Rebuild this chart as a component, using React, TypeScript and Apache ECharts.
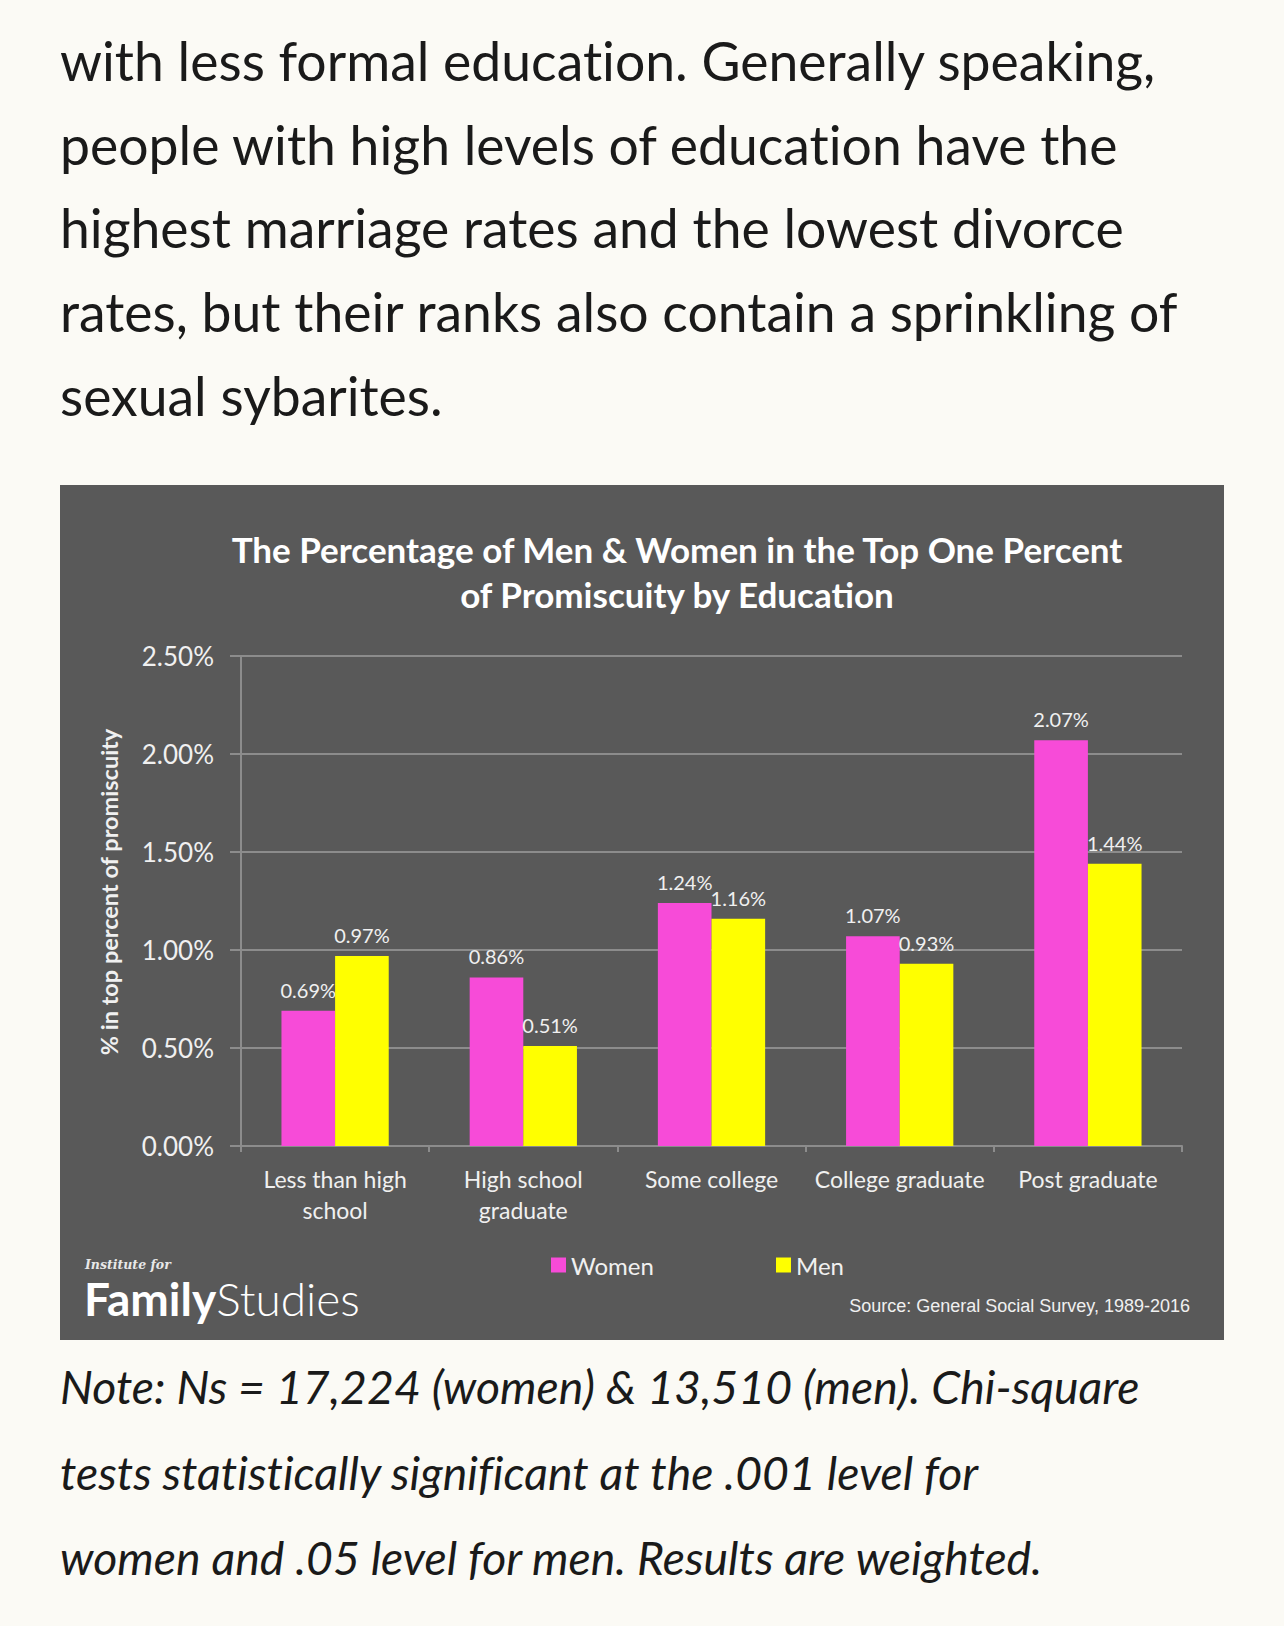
import * as echarts from "echarts";
import { useEffect, useRef } from "react";

const categories = [
  "Less than high\nschool",
  "High school\ngraduate",
  "Some college",
  "College graduate",
  "Post graduate",
];
const womenValues = [0.69, 0.86, 1.24, 1.07, 2.07];
const menValues = [0.97, 0.51, 1.16, 0.93, 1.44];
const yTicks = { min: 0, max: 2.5, interval: 0.5 };

const introLines = [
  "with less formal education. Generally speaking,",
  "people with high levels of education have the",
  "highest marriage rates and the lowest divorce",
  "rates, but their ranks also contain a sprinkling of",
  "sexual sybarites.",
];
const noteLines = [
  "Note: Ns = 17,224 (women) & 13,510 (men). Chi-square",
  "tests statistically significant at the .001 level for",
  "women and .05 level for men. Results are weighted.",
];

const PINK = "#f74bd8";
const YELLOW = "#ffff00";
const GRID = "#8c8c8c";
const LABEL = "#f0f0f0";
const FONT = "Lato, 'Open Sans', sans-serif";

function PromiscuityChart() {
  const chartRef = useRef<HTMLDivElement | null>(null);

  useEffect(() => {
    if (!chartRef.current) return;
    const chart = echarts.init(chartRef.current, null, { renderer: "svg" });

    const barLabel = {
      show: true,
      position: "top" as const,
      distance: 11,
      color: LABEL,
      fontSize: 20,
      fontFamily: FONT,
      formatter: (p: any) => p.value.toFixed(2) + "%",
    };

    const legendText = { color: LABEL, fontSize: 24, fontFamily: FONT };

    const option: echarts.EChartsOption = {
      animation: false,
      backgroundColor: "#595959",
      textStyle: { fontFamily: FONT },
      graphic: [
        {
          type: "text",
          x: 617,
          y: 41,
          style: {
            text: "The Percentage of Men & Women in the Top One Percent\nof Promiscuity by Education",
            fill: "#ffffff",
            font: `bold 35px ${FONT}`,
            lineHeight: 45,
            textAlign: "center",
            textVerticalAlign: "top",
          },
        },
        {
          // y axis title
          type: "text",
          x: 49,
          y: 407,
          rotation: Math.PI / 2,
          style: {
            text: "% in top percent of promiscuity",
            fill: LABEL,
            font: `bold 23.5px ${FONT}`,
            textAlign: "center",
            textVerticalAlign: "middle",
          },
        },
        {
          type: "text",
          left: 25,
          top: 773,
          style: {
            text: "Institute for",
            fill: "#e8e8e8",
            font: "italic bold 12.5px 'DejaVu Serif', serif",
          },
        },
        {
          type: "text",
          left: 24,
          top: 790,
          style: {
            text: "{b|Family}{l|Studies}",
            rich: {
              b: {
                fill: "#ffffff",
                fontFamily: FONT,
                fontWeight: "bold",
                fontSize: 46,
                lineHeight: 38,
              },
              l: {
                fill: "#ffffff",
                fontFamily: FONT,
                fontWeight: 300,
                fontSize: 46,
                lineHeight: 38,
              },
            },
          },
        },
        {
          type: "text",
          right: 34,
          top: 812,
          style: {
            text: "Source: General Social Survey, 1989-2016",
            fill: "#f0f0f0",
            font: "18px 'Liberation Sans Narrow', 'Arial Narrow', sans-serif",
          },
        },
      ],
      legend: [
        {
          data: ["Women"],
          left: 491,
          top: 768,
          padding: 0,
          itemWidth: 15,
          itemHeight: 15,
          icon: "rect",
          textStyle: legendText,
        },
        {
          data: ["Men"],
          left: 716,
          top: 768,
          padding: 0,
          itemWidth: 15,
          itemHeight: 15,
          icon: "rect",
          textStyle: legendText,
        },
      ],
      grid: { left: 181, right: 42, top: 171, bottom: 194 },
      xAxis: {
        type: "category",
        data: categories,
        axisLine: { lineStyle: { color: GRID, width: 2 } },
        axisTick: { show: true, length: 6, lineStyle: { color: GRID, width: 2 } },
        axisLabel: {
          interval: 0,
          color: LABEL,
          fontSize: 23,
          lineHeight: 31,
          margin: 17,
          fontFamily: FONT,
        },
      },
      yAxis: {
        type: "value",
        min: yTicks.min,
        max: yTicks.max,
        interval: yTicks.interval,
        axisLine: { show: true, lineStyle: { color: GRID, width: 2 } },
        axisTick: { show: true, length: 11, lineStyle: { color: GRID, width: 2 } },
        splitLine: { lineStyle: { color: GRID, width: 2 } },
        axisLabel: {
          color: LABEL,
          fontSize: 26,
          margin: 27,
          fontFamily: FONT,
          formatter: (v: number) => v.toFixed(2) + "%",
        },
      },
      series: [
        {
          name: "Women",
          type: "bar",
          data: womenValues,
          itemStyle: { color: PINK },
          barGap: "0%",
          barCategoryGap: "43%",
          label: barLabel,
        },
        {
          name: "Men",
          type: "bar",
          data: menValues,
          itemStyle: { color: YELLOW },
          label: barLabel,
        },
      ],
    };

    chart.setOption(option);
    return () => chart.dispose();
  }, []);

  return (
    <div
      ref={chartRef}
      style={{ position: "absolute", left: 60, top: 485, width: 1164, height: 855 }}
    />
  );
}

export default function App() {
  const textStyle = {
    position: "absolute" as const,
    left: 60,
    fontFamily: FONT,
    color: "#1a1a1a",
    whiteSpace: "nowrap" as const,
    fontVariantLigatures: "none" as const,
  };
  return (
    <div
      style={{
        position: "fixed",
        left: 0,
        top: 0,
        width: 1284,
        height: 1626,
        background: "#fbfaf5",
        overflow: "hidden",
      }}
    >
      {introLines.map((line, i) => (
        <div
          key={line}
          style={{ ...textStyle, top: 18 + i * 83.7, fontSize: 53.5, lineHeight: "84px" }}
        >
          {line}
        </div>
      ))}
      <PromiscuityChart />
      {noteLines.map((line, i) => (
        <div
          key={line}
          style={{
            ...textStyle,
            top: 1344 + i * 85.5,
            fontSize: 46.4,
            lineHeight: "84px",
            fontStyle: "italic",
          }}
        >
          {line}
        </div>
      ))}
    </div>
  );
}
